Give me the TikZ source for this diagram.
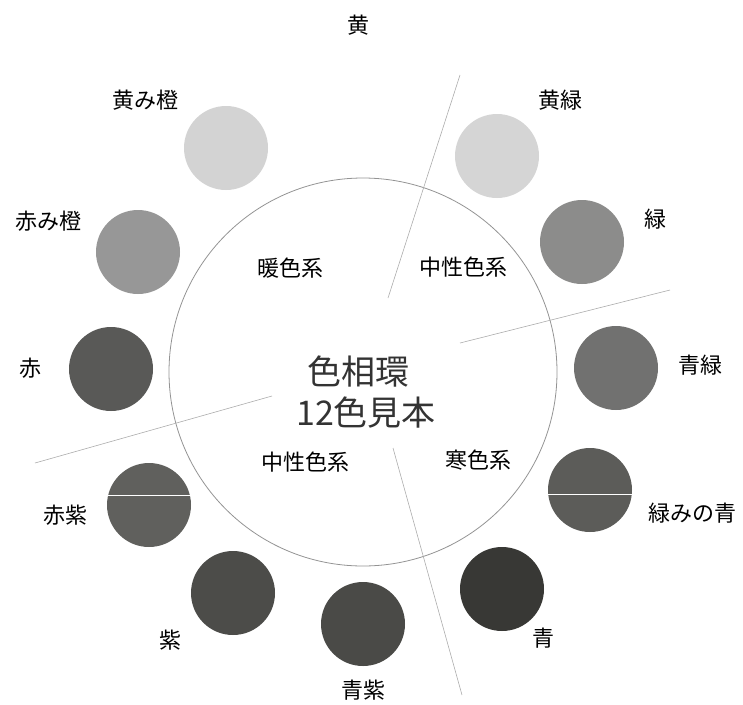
\documentclass[tikz,border=0pt]{standalone}
\usepackage{fontspec}
\setmainfont{Noto Sans CJK JP}
\definecolor{swA}{HTML}{D3D3D3}
\definecolor{swB}{HTML}{D5D5D5}
\definecolor{swC}{HTML}{979797}
\definecolor{swD}{HTML}{8C8C8B}
\definecolor{swE}{HTML}{595957}
\definecolor{swF}{HTML}{717170}
\definecolor{swG}{HTML}{60605D}
\definecolor{swH}{HTML}{5C5C59}
\definecolor{swI}{HTML}{4C4C49}
\definecolor{swJ}{HTML}{4A4A47}
\definecolor{swK}{HTML}{383835}
\begin{document}
\begin{tikzpicture}[x=1pt,y=-1pt,line join=round]
  \tikzset{
    swatch/.style={circle,minimum size=84pt,inner sep=0pt},
    lbl/.style={font=\fontsize{22}{26}\selectfont,inner sep=0pt},
    title/.style={font=\fontsize{34}{40}\selectfont,text=black!80,inner sep=0pt},
    divider/.style={color=gray!65,line width=0.6pt}
  }
  \useasboundingbox (0,0) rectangle (743,704);
  % big ring
  \node[circle,draw=gray!85,line width=0.8pt,minimum size=388pt,inner sep=0pt] (wheel) at (363,372) {};
  % dividing lines
  \coordinate (d1a) at (388,298); \coordinate (d1b) at (460,75);
  \coordinate (d2a) at (460,343); \coordinate (d2b) at (670,290);
  \coordinate (d3a) at (272,396); \coordinate (d3b) at (35,463);
  \coordinate (d4a) at (393,448); \coordinate (d4b) at (462,695);
  \foreach \i in {1,2,3,4} {
      \draw [divider] (d\i a) -- (d\i b);
    }
  % colour swatches
  \foreach \name/\x/\y/\col in {yo/226/148/swA, yg/497/156/swB, ro/138/252/swC,
      gr/582/242/swD, rd/111/369/swE, bg/616/368/swF, rp/149/505/swG,
      gb/590/490/swH, pu/233/593/swI, bp/363/624/swJ, bl/502/589/swK} {
      \node [swatch,fill=\col] (\name) at (\x,\y) {};
    }
  \draw [white,line width=0.8pt] (rp.west |- 0,495) -- (rp.east |- 0,495);
  \draw [white,line width=0.8pt] (gb.west |- 0,494) -- (gb.east |- 0,494);
  % colour names
  \node [lbl] (n-y)  at (358,25)  {黄};
  \node [lbl] (n-yg) at (560,100) {黄緑};
  \node [lbl] (n-gr) at (655,219) {緑};
  \node [lbl] (n-bg) at (700,365) {青緑};
  \node [lbl] (n-gb) at (692,513) {緑みの青};
  \node [lbl] (n-bl) at (543,638) {青};
  \node [lbl] (n-bp) at (363,690) {青紫};
  \node [lbl] (n-pu) at (170,640) {紫};
  \node [lbl] (n-rp) at (65,515)  {赤紫};
  \node [lbl] (n-rd) at (30,368)  {赤};
  \node [lbl] (n-ro) at (48,221)  {赤み橙};
  \node [lbl] (n-yo) at (145,100) {黄み橙};
  % groups
  \node [lbl] (warm)  at (290,268) {暖色系};
  \node [lbl] (neut1) at (463,267) {中性色系};
  \node [lbl] (neut2) at (305,462) {中性色系};
  \node [lbl] (cold)  at (478,460) {寒色系};
  % centre
  \node [title] (hue)    at (358,372) {色相環};
  \node [title] (sample) at (366,413) {12色見本};
\end{tikzpicture}
\end{document}
